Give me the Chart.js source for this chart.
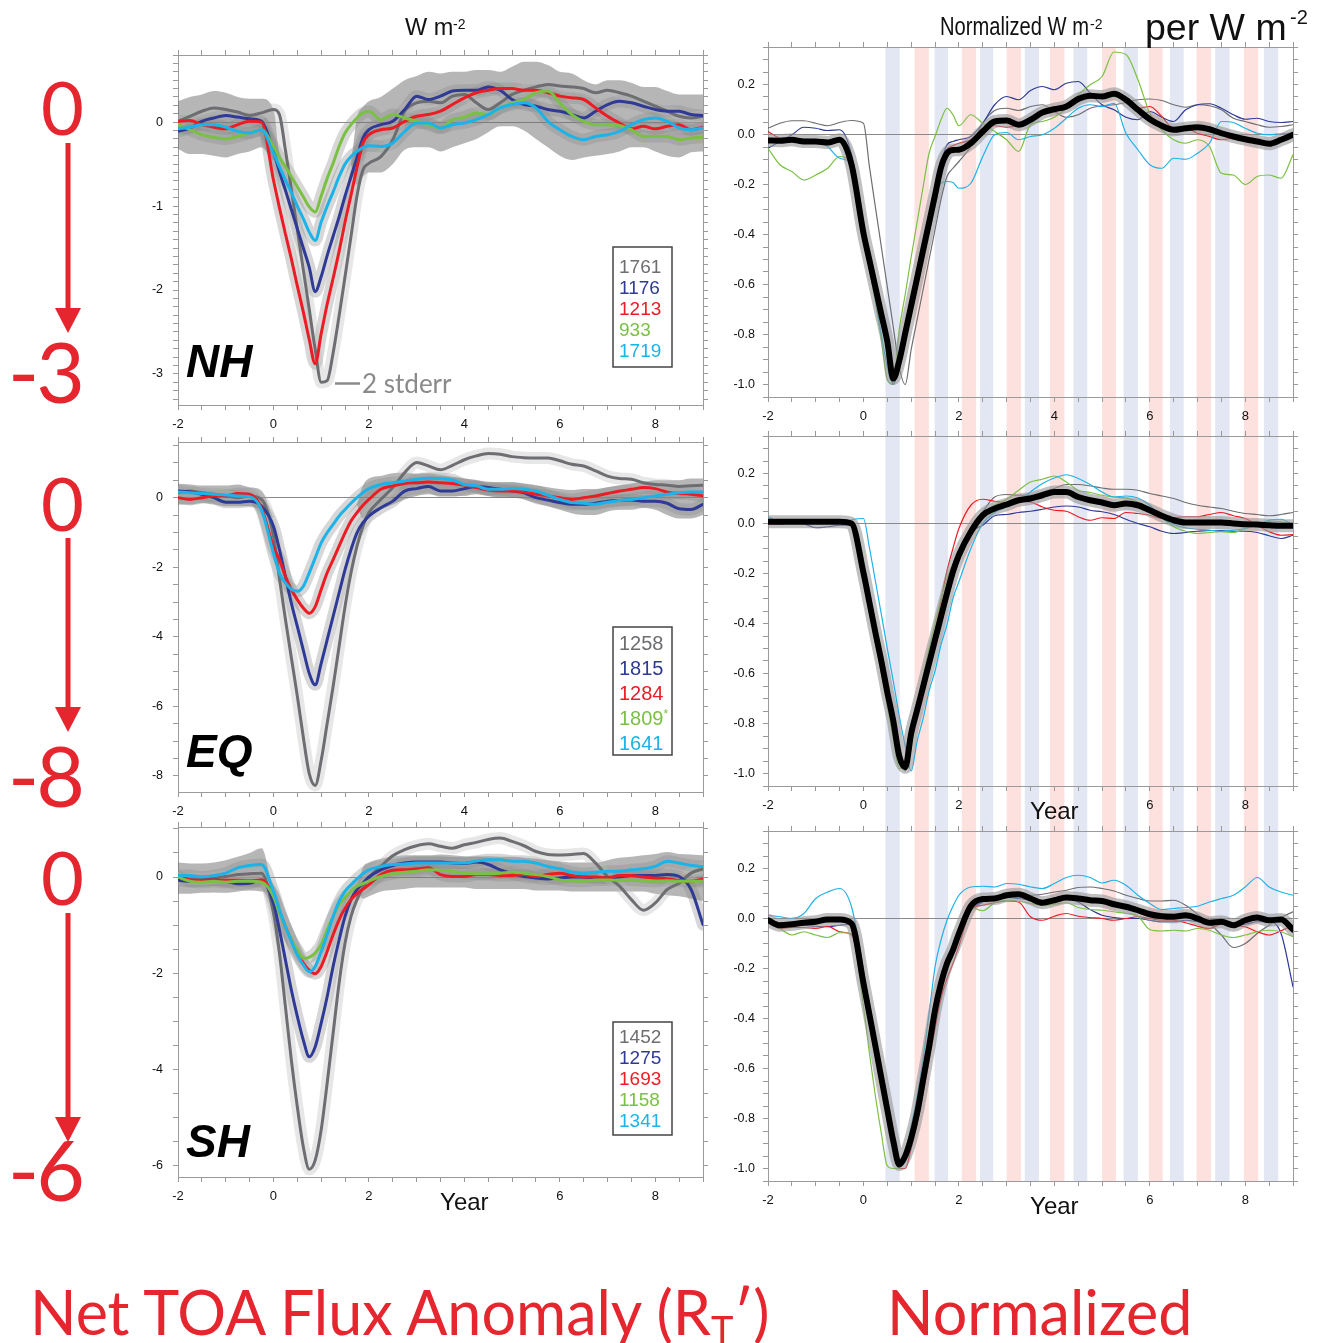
<!DOCTYPE html>
<html>
<head>
<meta charset="utf-8">
<script src="https://cdn.jsdelivr.net/npm/chart.js@4.4.0/dist/chart.umd.min.js"></script>
<style>
  body { margin: 0; background: #fff; }
  #page { position: relative; width: 1337px; height: 1343px; overflow: hidden; background: #fff; }
  canvas { position: absolute; }
  #ov { position: absolute; left: 0; top: 0; z-index: 5; pointer-events: none; }
</style>
</head>
<body>
<div id="page">
  <canvas id="nhL"></canvas>
  <canvas id="eqL"></canvas>
  <canvas id="shL"></canvas>
  <canvas id="nhR"></canvas>
  <canvas id="eqR"></canvas>
  <canvas id="shR"></canvas>

  <svg id="ov" width="1337" height="1343" xmlns="http://www.w3.org/2000/svg">
    <!-- column titles -->
    <g font-family="Liberation Sans, Arial" fill="#111">
      <text x="405" y="35" font-size="23.5">W m</text>
      <text x="453" y="29" font-size="14">-2</text>
      <text x="940" y="35" font-size="25.8" textLength="149" lengthAdjust="spacingAndGlyphs">Normalized W m</text>
      <text x="1090" y="28.5" font-size="14">-2</text>
      <text x="1145" y="40" font-size="37.5">per W m</text>
      <text x="1290" y="24" font-size="20">-2</text>
    </g>

    <!-- red scale notes on the left -->
    <g font-family="Lato, 'Noto Sans', sans-serif" fill="#e5262e">
      <text x="62.5" y="135" text-anchor="middle" font-size="74">0</text>
      <text x="85" y="403" text-anchor="end" font-size="84">-<tspan dx="-3">3</tspan></text>
      <text x="62.5" y="531" text-anchor="middle" font-size="74">0</text>
      <text x="85" y="807" text-anchor="end" font-size="84">-<tspan dx="-3">8</tspan></text>
      <text x="62.5" y="905" text-anchor="middle" font-size="74">0</text>
      <text x="85" y="1201" text-anchor="end" font-size="84">-<tspan dx="-3">6</tspan></text>
    </g>
    <g stroke="#e5262e" stroke-width="5">
      <line x1="68" y1="143" x2="68" y2="312"/>
      <line x1="68" y1="538" x2="68" y2="710"/>
      <line x1="68" y1="913" x2="68" y2="1120"/>
    </g>
    <g fill="#e5262e">
      <polygon points="55,308 81,308 68,333"/>
      <polygon points="55,707 81,707 68,732"/>
      <polygon points="55,1117 81,1117 68,1142"/>
    </g>

    <!-- bottom captions -->
    <g font-family="Lato, 'Noto Sans', sans-serif" fill="#e5262e" font-size="61">
      <text x="30" y="1335">Net TOA Flux Anomaly (R<tspan font-size="38" dy="9">T</tspan><tspan dy="-9">′)</tspan></text>
      <text x="887" y="1335">Normalized</text>
    </g>

    <!-- region names -->
    <g font-family="Liberation Sans, Arial" font-weight="bold" font-style="italic" font-size="46" fill="#000">
      <text x="186" y="377">NH</text>
      <text x="186" y="767">EQ</text>
      <text x="186" y="1157">SH</text>
    </g>
    <line x1="335" y1="383.5" x2="360" y2="383.5" stroke="#8a8a8a" stroke-width="2.5"/>
    <text x="362" y="393" font-family="Lato, 'Noto Sans', sans-serif" font-size="26" fill="#8a8a8a">2 stderr</text>
    <g id="legends"></g>
  </svg>
</div>

<script>
// time axis (years after eruption)
const years = [-2,-1.75,-1.5,-1.25,-1,-0.75,-0.5,-0.25,0,0.125,0.25,0.375,0.5,0.625,0.75,0.875,1,1.125,1.25,1.375,1.5,1.625,1.75,1.875,2,2.25,2.5,2.75,3,3.25,3.5,3.75,4,4.25,4.5,4.75,5,5.25,5.5,5.75,6,6.25,6.5,6.75,7,7.25,7.5,7.75,8,8.25,8.5,8.75,9];

// legend labels (eruption years)
const nhNames = ['1761', '1176', '1213', '933', '1719'];
const eqNames = ['1258', '1815', '1284', '1809*', '1641'];
const shNames = ['1452', '1275', '1693', '1158', '1341'];

// ---- Net TOA flux anomaly, W m-2 ----
const nhGrayL  = [0.01,0.07,0.13,0.17,0.15,0.12,0.08,0.11, 0.15,0.09,-0.33,-0.8,-1.28,-1.76,-2.23,-2.71,-3.1,-3.08,-2.75,-2.31,-1.84,-1.36,-0.88,-0.57,-0.49, -0.41,-0.21,0.13,0.23,0.25,0.23,0.31,0.33,0.23,0.15, 0.23,0.33,0.38,0.42,0.45,0.43,0.42,0.4,0.35,0.38, 0.35,0.31,0.25,0.19,0.13,0.07,0.05,0.07];
const nhBlueL  = [-0.11,-0.07,0.01,0.05,0.08,0.06,0.04,0.01, -0.35,-0.59,-0.81,-1.04,-1.27,-1.5,-1.73,-2.02,-1.84,-1.59,-1.36,-1.13,-0.88,-0.65,-0.42,-0.19,-0.09, -0.03,0.01,0.15,0.31,0.27,0.31,0.37,0.38,0.38,0.42, 0.38,0.27,0.21,0.19,0.15,0.13,0.09,0.05,0.13,0.21, 0.25,0.23,0.19,0.15,0.13,0.13,0.09,0.08];
const nhRedL   = [0.01,0.02,-0.03,-0.06,-0.08,-0.03,0.01,0.0, -0.69,-1.02,-1.33,-1.63,-1.95,-2.26,-2.59,-2.88,-2.52,-2.17,-1.86,-1.54,-1.19,-0.87,-0.54,-0.25,-0.15, -0.09,-0.07,0.01,0.07,0.09,0.13,0.21,0.29,0.35,0.38, 0.4,0.4,0.38,0.38,0.35,0.31,0.29,0.27,0.17,0.07, -0.01,-0.08,-0.05,-0.08,-0.05,-0.03,-0.09,-0.06];
const nhGreenL = [-0.03,-0.09,-0.15,-0.18,-0.2,-0.17,-0.13,-0.09, -0.29,-0.42,-0.53,-0.65,-0.77,-0.89,-1.01,-1.07,-0.88,-0.67,-0.49,-0.29,-0.13,-0.03,0.05,0.11,0.13, 0.03,0.09,0.05,0.01,-0.03,-0.07,0.03,0.06,0.11,0.09, 0.17,0.23,0.27,0.35,0.37,0.23,0.09,0.01,-0.03,-0.03, -0.04,-0.09,-0.17,-0.17,-0.17,-0.21,-0.19,-0.18];
const nhCyanL  = [-0.08,-0.06,-0.03,-0.03,-0.06,-0.11,-0.13,-0.09, -0.37,-0.53,-0.69,-0.84,-1.0,-1.15,-1.31,-1.41,-1.19,-1.0,-0.83,-0.65,-0.5,-0.41,-0.35,-0.3,-0.28, -0.29,-0.25,-0.11,-0.01,-0.01,-0.07,-0.03,-0.01,0.03,0.09, 0.17,0.21,0.23,0.17,0.01,-0.09,-0.17,-0.21,-0.17,-0.15, -0.11,-0.03,0.03,0.05,0.01,-0.07,-0.09,-0.07];
const nhBandHi = [0.25,0.3,0.33,0.37,0.35,0.3,0.28,0.28, 0.15,-0.4, null,null,null,null,null,null,null,null,null,null,null, -0.5,0.05,0.18,0.25, 0.3,0.4,0.5,0.55,0.6,0.58,0.6,0.6,0.62,0.62, 0.6,0.66,0.72,0.72,0.68,0.6,0.58,0.5,0.45,0.5, 0.5,0.47,0.42,0.42,0.37,0.33,0.33,0.33];
const nhBandLo = [-0.32,-0.38,-0.38,-0.4,-0.42,-0.38,-0.35,-0.3, -0.45,-0.4, null,null,null,null,null,null,null,null,null,null,null, -0.5,-0.75,-0.65,-0.6, -0.6,-0.5,-0.33,-0.3,-0.3,-0.35,-0.3,-0.25,-0.2,-0.12, -0.05,-0.05,-0.1,-0.2,-0.3,-0.4,-0.45,-0.42,-0.4,-0.38, -0.35,-0.3,-0.3,-0.35,-0.4,-0.42,-0.36,-0.35];

const eqGrayL  = [0.14,0.19,0.14,0.1,0.05,0.0,0.05,-0.05, -1.1,-2.32,-3.49,-4.6,-5.7,-6.88,-7.93,-8.27,-7.55,-6.49,-5.43,-4.28,-3.13,-2.16,-1.39,-0.82,-0.43, -0.05,0.29,0.72,1.01,0.91,0.8,0.93,1.09,1.2,1.27, 1.25,1.18,1.15,1.14,1.14,1.06,0.96,0.91,0.77,0.62, 0.55,0.53,0.43,0.38,0.36,0.32,0.34,0.36];
const eqBlueL  = [0.19,0.17,0.1,0.0,-0.13,-0.13,-0.1,-0.24, -0.82,-1.49,-2.26,-3.03,-3.7,-4.38,-5.05,-5.38,-4.76,-4.09,-3.41,-2.74,-2.07,-1.49,-1.01,-0.72,-0.53, -0.29,-0.1,0.19,0.26,0.32,0.19,0.19,0.26,0.32,0.29, 0.24,0.19,0.14,0.0,-0.07,-0.14,-0.19,-0.19,-0.16,-0.1, -0.08,-0.07,-0.1,-0.1,-0.16,-0.32,-0.34,-0.19];
const eqRedL   = [0.0,-0.05,0.0,0.05,0.05,0.12,0.1,-0.3, -1.42,-1.78,-2.26,-2.64,-2.93,-3.17,-3.32,-3.13,-2.64,-2.16,-1.78,-1.39,-1.01,-0.67,-0.43,-0.22,-0.05, 0.24,0.34,0.41,0.43,0.45,0.43,0.41,0.36,0.29,0.22, 0.19,0.19,0.16,0.1,0.05,0.0,-0.05,0.0,0.05,0.12, 0.19,0.24,0.29,0.26,0.16,0.12,0.1,0.05];
const eqCyanL  = [0.16,0.14,0.12,0.1,0.08,0.05,0.03,-0.35, -1.6,-2.16,-2.45,-2.63,-2.69,-2.55,-2.16,-1.73,-1.3,-1.01,-0.77,-0.53,-0.34,-0.16,0.0,0.14,0.26, 0.38,0.43,0.48,0.53,0.56,0.55,0.51,0.38,0.34,0.24, 0.24,0.26,0.24,0.19,0.07,-0.05,-0.14,-0.16,-0.19,-0.13, -0.08,-0.05,0.0,0.05,0.1,0.14,0.16,0.16];
const eqBandHi = [0.4,0.38,0.35,0.35,0.35,0.38,0.3,0.2, -0.6, null,null,null,null,null,null,null,null,null,null,null,null,null, -0.2,0.35,0.55, 0.62,0.7,0.72,0.68,0.7,0.65,0.6,0.55,0.5,0.45, 0.45,0.45,0.4,0.35,0.3,0.25,0.22,0.25,0.25,0.3, 0.35,0.4,0.45,0.5,0.5,0.5,0.55,0.55];
const eqBandLo = [-0.2,-0.2,-0.15,-0.2,-0.25,-0.25,-0.25,-0.35, -0.6, null,null,null,null,null,null,null,null,null,null,null,null,null, -0.2,-0.6,-0.5, -0.35,-0.2,-0.05,0.05,0.1,0.05,0.05,0.05,0.1,0.05, 0.0,0.0,-0.05,-0.15,-0.25,-0.35,-0.45,-0.5,-0.5,-0.4, -0.35,-0.35,-0.3,-0.35,-0.5,-0.6,-0.6,-0.5];

const shGrayL  = [-0.02,-0.04,-0.04,-0.02,0.01,0.05,0.07,0.08, -0.75,-1.58,-2.69,-3.81,-4.78,-5.61,-6.08,-5.89,-5.26,-4.29,-3.25,-2.21,-1.38,-0.82,-0.47,-0.23,-0.02, 0.22,0.44,0.57,0.65,0.69,0.64,0.6,0.67,0.72,0.78, 0.81,0.74,0.65,0.53,0.47,0.46,0.47,0.49,0.29,0.01, -0.19,-0.47,-0.69,-0.54,-0.26,-0.13,0.08,0.17];
const shBlueL  = [-0.07,-0.09,-0.07,-0.06,-0.09,-0.14,-0.13,-0.06, -0.54,-1.1,-1.72,-2.35,-2.9,-3.39,-3.74,-3.53,-3.04,-2.49,-1.86,-1.31,-0.82,-0.47,-0.26,-0.13,0.0, 0.15,0.24,0.29,0.31,0.31,0.31,0.29,0.28,0.31,0.26, 0.15,0.07,0.01,-0.02,-0.04,-0.02,0.0,0.0,-0.02,-0.02, 0.0,0.03,0.03,0.03,0.05,0.01,-0.26,-0.99];
const shRedL   = [0.0,-0.06,-0.07,-0.06,-0.07,-0.07,-0.08,-0.06, -0.4,-0.72,-1.03,-1.31,-1.58,-1.79,-1.94,-2.01,-1.86,-1.55,-1.2,-0.89,-0.65,-0.47,-0.35,-0.25,-0.16, 0.05,0.14,0.15,0.17,0.19,0.05,0.01,0.01,0.05,0.05, 0.03,0.03,0.05,0.01,0.05,0.08,0.03,0.0,0.0,-0.02, 0.03,0.03,0.0,-0.02,-0.04,-0.07,-0.09,-0.04];
const shGreenL = [0.0,-0.09,-0.11,-0.09,-0.11,-0.09,-0.09,-0.11, -0.4,-0.75,-1.03,-1.31,-1.51,-1.69,-1.67,-1.58,-1.41,-1.1,-0.82,-0.58,-0.42,-0.3,-0.19,-0.14,-0.08, 0.01,0.07,0.1,0.12,0.15,0.14,0.12,0.08,0.07,0.07, 0.08,0.1,0.08,0.05,0.01,-0.06,-0.08,-0.09,-0.06,-0.06, -0.07,-0.06,-0.08,-0.09,-0.08,-0.09,-0.09,-0.09];
const shCyanL  = [0.03,0.03,0.0,0.03,0.08,0.19,0.24,0.26, -0.3,-0.68,-1.03,-1.34,-1.62,-1.83,-1.97,-1.86,-1.55,-1.2,-0.82,-0.51,-0.3,-0.16,-0.04,0.07,0.15, 0.22,0.26,0.27,0.29,0.29,0.29,0.29,0.29,0.33,0.36, 0.36,0.33,0.33,0.29,0.22,0.17,0.1,0.07,0.1,0.12, 0.12,0.15,0.17,0.22,0.33,0.29,0.24,0.22];
const shBandHi = [0.3,0.28,0.28,0.3,0.35,0.42,0.5,0.6, -0.35, null,null,null,null,null,null,null,null,null,null,null,null,null, -0.2,0.2,0.3, 0.38,0.42,0.45,0.45,0.45,0.47,0.45,0.43,0.42,0.43, 0.42,0.42,0.4,0.38,0.35,0.33,0.3,0.3,0.3,0.35, 0.4,0.42,0.45,0.48,0.52,0.48,0.47,0.45];
const shBandLo = [-0.35,-0.35,-0.33,-0.32,-0.33,-0.3,-0.28,-0.3, -0.35, null,null,null,null,null,null,null,null,null,null,null,null,null, -0.2,-0.45,-0.4, -0.3,-0.27,-0.25,-0.22,-0.22,-0.22,-0.22,-0.22,-0.25,-0.25, -0.25,-0.25,-0.25,-0.28,-0.28,-0.28,-0.3,-0.3,-0.3,-0.3, -0.3,-0.3,-0.3,-0.35,-0.38,-0.4,-0.45,-0.5];

// ---- normalized responses ----
const nhMeanR  = [-0.024,-0.025,-0.021,-0.028,-0.028,-0.032,-0.021,-0.12, -0.394,-0.503,-0.611,-0.72,-0.828,-0.976,-0.905,-0.795,-0.684,-0.574,-0.463,-0.353,-0.242,-0.132,-0.075,-0.062,-0.061, -0.035,0.012,0.052,0.056,0.039,0.059,0.088,0.101,0.112,0.142, 0.155,0.152,0.163,0.139,0.099,0.061,0.035,0.019,0.025,0.029, 0.021,0.005,-0.008,-0.019,-0.028,-0.037,-0.021,-0.001];
const nhGrayR  = [0.025,0.045,0.055,0.055,0.045,0.035,0.048,0.056, 0.045,-0.128,-0.29,-0.45,-0.61,-0.77,-0.93,-1.0,-0.86,-0.74,-0.62,-0.5,-0.38,-0.26,-0.168,-0.135,-0.108, -0.048,0.045,0.096,0.105,0.096,0.112,0.119,0.092,0.069,0.079, 0.105,0.115,0.119,0.128,0.139,0.142,0.136,0.119,0.109,0.119, 0.115,0.099,0.065,0.052,0.039,0.029,0.032,0.039];
const nhBlueR  = [-0.055,-0.028,-0.001,0.029,0.025,0.016,0.019,-0.08, -0.37,-0.49,-0.61,-0.73,-0.84,-1.0,-0.92,-0.8,-0.69,-0.57,-0.455,-0.34,-0.23,-0.115,-0.041,-0.028,-0.021, -0.008,0.045,0.119,0.152,0.139,0.176,0.192,0.179,0.205,0.212, 0.166,0.119,0.099,0.069,0.059,0.092,0.069,0.052,0.099,0.119, 0.123,0.105,0.079,0.061,0.065,0.052,0.048,0.052];
const nhRedR   = [0.012,-0.015,-0.021,-0.024,-0.028,-0.028,-0.021,-0.1, -0.38,-0.5,-0.62,-0.74,-0.86,-1.0,-0.92,-0.8,-0.69,-0.58,-0.47,-0.36,-0.25,-0.13,-0.06,-0.045,-0.035, -0.021,0.025,0.035,0.029,0.039,0.065,0.092,0.099,0.119,0.146, 0.155,0.15,0.159,0.139,0.105,0.112,0.072,0.025,0.025,0.005, -0.008,-0.021,-0.015,-0.019,-0.021,-0.032,-0.021,-0.001];
const nhGreenR = [-0.055,-0.121,-0.148,-0.182,-0.162,-0.135,-0.088,-0.13, -0.41,-0.54,-0.67,-0.82,-0.98,-1.0,-0.78,-0.64,-0.49,-0.35,-0.21,-0.075,-0.008,0.059,0.105,0.079,0.035, 0.079,0.045,0.012,-0.021,-0.068,0.039,0.052,0.069,0.105,0.159, 0.199,0.232,0.33,0.32,0.22,0.085,0.019,-0.021,-0.035,-0.021, -0.048,-0.155,-0.162,-0.2,-0.168,-0.162,-0.175,-0.081];
const nhCyanR  = [-0.021,-0.015,-0.015,-0.019,-0.021,-0.048,-0.095,-0.12, -0.395,-0.53,-0.66,-0.8,-0.93,-1.0,-0.89,-0.77,-0.65,-0.53,-0.42,-0.315,-0.228,-0.195,-0.188,-0.192,-0.215, -0.195,-0.088,-0.001,0.008,-0.021,-0.008,-0.001,0.025,0.065,0.105, 0.119,0.112,0.125,0.005,-0.061,-0.121,-0.135,-0.095,-0.099,-0.075, -0.035,0.052,0.048,0.025,0.005,-0.001,0.003,0.005];

const eqMeanR  = [0.007,0.007,0.007,0.007,0.007,0.007,0.007,0.0, -0.197,-0.316,-0.436,-0.55,-0.675,-0.79,-0.93,-0.975,-0.84,-0.746,-0.653,-0.559,-0.465,-0.372,-0.279,-0.193,-0.126, -0.033,0.033,0.06,0.076,0.093,0.1,0.113,0.126,0.126,0.106, 0.093,0.084,0.073,0.08,0.073,0.053,0.031,0.013,0.004,0.004, 0.004,0.004,0.0,-0.003,-0.004,-0.007,-0.009,-0.009];
const eqGrayR  = [0.01,0.008,0.005,0.005,0.008,0.01,0.008,0.004, -0.19,-0.31,-0.43,-0.55,-0.67,-0.79,-0.92,-0.99,-0.86,-0.76,-0.66,-0.56,-0.46,-0.37,-0.28,-0.2,-0.12, -0.03,0.047,0.106,0.116,0.113,0.113,0.126,0.14,0.156,0.156, 0.15,0.142,0.137,0.137,0.133,0.12,0.11,0.1,0.084,0.073, 0.066,0.06,0.049,0.04,0.036,0.031,0.036,0.044];
const eqBlueR  = [0.004,0.007,0.013,0.0,-0.017,-0.013,-0.007,-0.007, -0.2,-0.32,-0.44,-0.56,-0.69,-0.81,-0.94,-0.98,-0.87,-0.77,-0.67,-0.57,-0.47,-0.38,-0.29,-0.21,-0.13, -0.036,-0.007,0.031,0.036,0.044,0.049,0.057,0.066,0.07,0.066, 0.053,0.047,0.036,0.017,0.0,-0.013,-0.031,-0.04,-0.036,-0.031, -0.028,-0.028,-0.031,-0.031,-0.036,-0.049,-0.06,-0.047];
const eqRedR   = [0.0,-0.004,0.007,0.009,0.013,0.011,0.009,0.004, -0.21,-0.33,-0.45,-0.57,-0.69,-0.82,-0.95,-0.96,-0.84,-0.74,-0.63,-0.53,-0.43,-0.31,-0.19,-0.1,-0.02, 0.073,0.097,0.089,0.084,0.089,0.086,0.066,0.053,0.049,0.027, 0.013,0.023,0.02,0.044,0.04,0.033,0.02,0.023,0.027,0.027, 0.036,0.044,0.031,0.02,-0.007,-0.033,-0.047,-0.044];
const eqGreenR = [0.005,0.003,0.006,0.008,0.006,0.005,0.006,0.0, -0.22,-0.35,-0.48,-0.6,-0.73,-0.86,-0.98,-0.96,-0.83,-0.72,-0.61,-0.5,-0.4,-0.3,-0.22,-0.16,-0.11, -0.02,0.04,0.073,0.097,0.133,0.166,0.177,0.19,0.166,0.133, 0.124,0.113,0.106,0.102,0.086,0.06,0.023,-0.013,-0.031,-0.04, -0.036,-0.033,-0.036,-0.02,-0.004,0.009,0.007,-0.007];
const eqCyanR  = [0.027,0.007,0.013,0.013,0.004,0.0,0.0,0.015, 0.02,-0.097,-0.23,-0.364,-0.5,-0.63,-0.77,-0.89,-0.99,-0.87,-0.78,-0.67,-0.59,-0.485,-0.405,-0.3,-0.233, -0.1,0.0,0.044,0.066,0.093,0.126,0.16,0.182,0.195,0.18, 0.156,0.126,0.106,0.11,0.102,0.073,0.023,-0.004,-0.017,-0.023, -0.027,-0.031,-0.027,-0.02,-0.007,0.013,0.017,-0.007];

const shMeanR  = [-0.007,-0.027,-0.023,-0.017,-0.013,-0.004,-0.004,-0.02, -0.258,-0.384,-0.51,-0.638,-0.765,-0.89,-0.984,-0.95,-0.878,-0.778,-0.645,-0.512,-0.366,-0.259,-0.18,-0.126,-0.06, 0.05,0.078,0.08,0.093,0.097,0.08,0.063,0.073,0.084,0.08, 0.073,0.07,0.057,0.047,0.033,0.017,0.009,0.007,0.013,0.0, -0.017,-0.013,-0.027,-0.007,0.004,-0.007,-0.004,-0.044];
const shGrayR  = [-0.01,-0.02,-0.02,-0.015,-0.01,-0.005,0.0,-0.02, -0.26,-0.38,-0.5,-0.63,-0.76,-0.89,-0.98,-0.96,-0.88,-0.78,-0.65,-0.52,-0.37,-0.26,-0.18,-0.12,-0.05, 0.05,0.08,0.089,0.097,0.093,0.093,0.097,0.106,0.113,0.124, 0.126,0.12,0.11,0.093,0.08,0.07,0.07,0.073,0.053,0.017, -0.02,-0.066,-0.116,-0.1,-0.06,-0.027,0.004,0.027];
const shBlueR  = [-0.007,-0.017,-0.023,-0.027,-0.031,-0.033,-0.027,-0.023, -0.25,-0.38,-0.51,-0.64,-0.77,-0.9,-0.99,-0.95,-0.87,-0.77,-0.64,-0.5,-0.36,-0.26,-0.19,-0.13,-0.07, 0.03,0.066,0.076,0.084,0.08,0.073,0.06,0.066,0.08,0.066, 0.036,0.013,0.004,0.0,0.0,-0.007,-0.013,-0.013,-0.007,-0.013, -0.02,-0.023,-0.027,-0.023,-0.013,-0.013,-0.06,-0.273];
const shRedR   = [-0.013,-0.04,-0.036,-0.036,-0.04,-0.031,-0.053,-0.066, -0.27,-0.39,-0.52,-0.65,-0.77,-0.9,-1.0,-1.0,-0.92,-0.82,-0.7,-0.57,-0.44,-0.32,-0.24,-0.18,-0.11, 0.033,0.053,0.063,0.07,0.066,0.007,-0.007,0.009,0.02,0.009, 0.004,0.0,-0.007,0.0,0.007,0.0,-0.007,-0.007,-0.017,-0.031, -0.04,-0.023,-0.027,-0.033,-0.053,-0.066,-0.049,-0.027];
const shGreenR = [-0.007,-0.04,-0.066,-0.053,-0.066,-0.076,-0.057,-0.06, -0.35,-0.54,-0.71,-0.86,-0.99,-1.0,-1.0,-0.92,-0.85,-0.75,-0.62,-0.49,-0.36,-0.26,-0.18,-0.12,-0.06, 0.044,0.031,0.063,0.073,0.069,0.06,0.053,0.057,0.063,0.044, 0.036,0.033,0.027,0.02,0.009,-0.044,-0.05,-0.047,-0.05,-0.04, -0.047,-0.066,-0.076,-0.066,-0.053,-0.047,-0.053,-0.073];
const shCyanR  = [0.013,0.007,0.0,0.02,0.08,0.106,0.12,0.047, -0.206,-0.36,-0.5,-0.63,-0.76,-0.89,-0.98,-0.93,-0.83,-0.71,-0.56,-0.38,-0.193,-0.086,-0.007,0.049,0.093, 0.126,0.129,0.126,0.14,0.137,0.126,0.12,0.14,0.164,0.173, 0.164,0.142,0.153,0.133,0.093,0.06,0.036,0.04,0.044,0.049, 0.066,0.08,0.093,0.126,0.164,0.126,0.106,0.093];

// seasonal stripes behind the normalized panels (years)
const stripeStart = [0.46,1.07,1.49,2.06,2.44,3.0,3.38,3.91,4.4,5.0,5.45,5.98,6.42,6.98,7.37,7.97,8.39];
const stripeEnd   = [0.76,1.37,1.77,2.36,2.72,3.3,3.68,4.21,4.69,5.29,5.75,6.27,6.71,7.28,7.67,8.27,8.69];
const stripeTone  = ['cool','warm','cool','warm','cool','warm','cool','warm','cool','warm','cool','warm','cool','warm','cool','warm','cool'];

const lineColors = ['#6d6e71', '#2e3a96', '#ed1c24', '#7ac143', '#1cb3e8'];

// quick sanity check on array lengths
const allSeries = {nhGrayL, nhBlueL, nhRedL, nhGreenL, nhCyanL, nhBandHi, nhBandLo, eqGrayL, eqBlueL, eqRedL, eqCyanL, eqBandHi, eqBandLo,
  shGrayL, shBlueL, shRedL, shGreenL, shCyanL, shBandHi, shBandLo, nhMeanR, nhGrayR, nhBlueR, nhRedR, nhGreenR, nhCyanR,
  eqMeanR, eqGrayR, eqBlueR, eqRedR, eqGreenR, eqCyanR, shMeanR, shGrayR, shBlueR, shRedR, shGreenR, shCyanR};
const bad = Object.keys(allSeries).filter(k => allSeries[k].length !== years.length).map(k => k + ':' + allSeries[k].length);
if (bad.length) throw new Error('length mismatch ' + bad.join(', '));

const stripePlugin = {
  id: 'stripes',
  beforeDraw(chart, args, o) {
    if (!o || !o.on) return;
    const ctx = chart.ctx, area = chart.chartArea, xs = chart.scales.x;
    const bottom = o.toEdge ? chart.height : area.bottom;
    ctx.save();
    stripeStart.forEach(function (s, i) {
      const a = xs.getPixelForValue(s), b = xs.getPixelForValue(stripeEnd[i]);
      ctx.fillStyle = stripeTone[i] === 'cool' ? '#e3e7f3' : '#fde1df';
      ctx.fillRect(a, area.top, b - a, bottom - area.top);
    });
    ctx.restore();
  }
};

function leftSets(series, hi, lo) {
  const sets = [
    { data: hi, fill: '+1', backgroundColor: 'rgba(110,110,110,0.5)', borderWidth: 0, order: 100 },
    { data: lo, fill: false, borderWidth: 0, order: 101 }
  ];
  series.forEach(function (s, i) {
    if (s) sets.push({ data: s, borderColor: i === 0 ? 'rgba(185,185,185,0.35)' : 'rgba(140,140,140,0.35)', borderWidth: 12, order: 50 });
  });
  series.forEach(function (s, i) {
    if (s) sets.push({ data: s, borderColor: lineColors[i], borderWidth: 3, order: 10 - i });
  });
  return sets;
}

function rightSets(series, mean) {
  const sets = [];
  series.forEach(function (s, i) {
    sets.push({ data: s, borderColor: lineColors[i], borderWidth: 1.2, order: 20 - i });
  });
  sets.push({ data: mean, borderColor: 'rgba(150,150,150,0.6)', borderWidth: 13, order: 2 });
  sets.push({ data: mean, borderColor: '#000', borderWidth: 6, order: 1 });
  return sets;
}

function drawPanel(id, geo, yr, sets, opt) {
  const c = document.getElementById(id);
  const w = geo.right - geo.left, h = geo.bottom - geo.top;
  c.width = w; c.height = h;
  c.style.left = geo.left + 'px'; c.style.top = geo.top + 'px';
  c.style.width = w + 'px'; c.style.height = h + 'px';

  const frame = { display: true, color: '#9a9a9a', width: 1 };
  const noLabel = function () { return ''; };
  const xLabel = function (v) {
    if (Math.abs(v - Math.round(v)) < 1e-9 && Math.round(v) % 2 === 0 && v < 9) {
      return (opt.year && Math.round(v) === 4) ? 'Year' : String(Math.round(v));
    }
    return '';
  };
  const yLabel = function (v) {
    const k = v / yr.every;
    if (Math.abs(k - Math.round(k)) > 1e-6) return '';
    if (yr.dec) { const s = v.toFixed(1); return s === '-0.0' ? '0.0' : s; }
    return String(Math.round(v));
  };
  sets.forEach(function (s) { s.xAxisID = 'x'; s.yAxisID = 'y'; s.pointRadius = 0; });

  new Chart(c, {
    type: 'line',
    data: { labels: years, datasets: sets },
    options: {
      responsive: false, animation: false, devicePixelRatio: 1,
      layout: { padding: 0 },
      events: [],
      plugins: { legend: { display: false }, tooltip: { enabled: false }, stripes: { on: !!opt.stripes, toEdge: !!opt.toEdge } },
      elements: { point: { radius: 0 }, line: { cubicInterpolationMode: 'monotone', borderJoinStyle: 'round', borderCapStyle: 'round' } },
      scales: {
        x: {
          type: 'linear', position: 'bottom', min: -2, max: 9,
          afterFit: function (s) { s.height = geo.bottom - geo.plotB; },
          border: frame,
          grid: { drawOnChartArea: false, tickLength: 5, color: '#999', tickColor: '#999' },
          ticks: {
            stepSize: 0.5, autoSkip: false, maxRotation: 0, padding: 7, color: '#111',
            font: function (ctx) { return { family: 'Liberation Sans, Arial', size: (opt.year && ctx.tick && ctx.tick.value === 4) ? 24 : 13 }; },
            callback: xLabel
          }
        },
        xt: {
          type: 'linear', position: 'top', min: -2, max: 9,
          afterFit: function (s) { s.height = geo.plotT - geo.top; },
          border: frame,
          grid: { drawOnChartArea: false, tickLength: 5, color: '#999', tickColor: '#999' },
          ticks: { stepSize: 0.5, autoSkip: false, maxRotation: 0, padding: 0, font: { size: 1 }, callback: noLabel }
        },
        y: {
          type: 'linear', position: 'left', min: yr.min, max: yr.max,
          afterFit: function (s) { s.width = geo.plotL - geo.left; },
          border: frame,
          grid: {
            drawOnChartArea: true, tickLength: 5, tickColor: '#999',
            color: function (ctx) { return (ctx.tick && Math.abs(ctx.tick.value) < 1e-9) ? '#8a8a8a' : 'rgba(0,0,0,0)'; }
          },
          ticks: {
            stepSize: yr.step, autoSkip: false, includeBounds: false, padding: yr.dec ? 8 : 10, color: '#111',
            font: { family: 'Liberation Sans, Arial', size: 12.5 },
            callback: yLabel
          }
        },
        yr: {
          type: 'linear', position: 'right', min: yr.min, max: yr.max,
          afterFit: function (s) { s.width = geo.right - geo.plotR; },
          border: frame,
          grid: { drawOnChartArea: false, tickLength: 5, color: '#999', tickColor: '#999' },
          ticks: { stepSize: yr.step, autoSkip: false, includeBounds: false, padding: 0, font: { size: 1 }, callback: noLabel }
        }
      }
    },
    plugins: [stripePlugin]
  });
}

// panel geometry on the page (top margin leaves room for Chart.js label padding)
const colL = { left: 128, plotL: 178, plotR: 703, right: 713 };
const colR = { left: 718, plotL: 768, plotR: 1293, right: 1303 };
function geo(col, plotT, plotB, bottom) {
  return { left: col.left, plotL: col.plotL, plotR: col.plotR, right: col.right, top: plotT - 22, plotT: plotT, plotB: plotB, bottom: bottom };
}

drawPanel('nhL', geo(colL, 55, 405, 442), { min: -3.37, max: 0.8, step: 0.1, every: 1 },
  leftSets([nhGrayL, nhBlueL, nhRedL, nhGreenL, nhCyanL], nhBandHi, nhBandLo), {});
drawPanel('eqL', geo(colL, 442, 792, 827), { min: -8.46, max: 1.6, step: 0.5, every: 2 },
  leftSets([eqGrayL, eqBlueL, eqRedL, null, eqCyanL], eqBandHi, eqBandLo), {});
drawPanel('shL', geo(colL, 827, 1177, 1212), { min: -6.24, max: 1.04, step: 0.5, every: 2 },
  leftSets([shGrayL, shBlueL, shRedL, shGreenL, shCyanL], shBandHi, shBandLo), { year: true });

const normY = { min: -1.05, max: 0.35, step: 0.05, every: 0.2, dec: true };
drawPanel('nhR', geo(colR, 47, 397, 436), normY,
  rightSets([nhGrayR, nhBlueR, nhRedR, nhGreenR, nhCyanR], nhMeanR), { stripes: true, toEdge: true });
drawPanel('eqR', geo(colR, 436, 786, 831), normY,
  rightSets([eqGrayR, eqBlueR, eqRedR, eqGreenR, eqCyanR], eqMeanR), { stripes: true, toEdge: true, year: true });
drawPanel('shR', geo(colR, 831, 1181, 1216), normY,
  rightSets([shGrayR, shBlueR, shRedR, shGreenR, shCyanR], shMeanR), { stripes: true, year: true });

// legend boxes
function legendBox(names, x, y, w, h, firstBase, gap, size) {
  const ns = 'http://www.w3.org/2000/svg';
  const g = document.getElementById('legends');
  const r = document.createElementNS(ns, 'rect');
  r.setAttribute('x', x); r.setAttribute('y', y); r.setAttribute('width', w); r.setAttribute('height', h);
  r.setAttribute('fill', '#fff'); r.setAttribute('stroke', '#444'); r.setAttribute('stroke-width', '1.5');
  g.appendChild(r);
  names.forEach(function (n, i) {
    const t = document.createElementNS(ns, 'text');
    t.setAttribute('x', x + 6); t.setAttribute('y', firstBase + i * gap);
    t.setAttribute('font-family', 'Liberation Sans, Arial'); t.setAttribute('font-size', size);
    t.setAttribute('fill', lineColors[i]);
    if (n.endsWith('*')) {
      t.textContent = n.slice(0, -1);
      const s = document.createElementNS(ns, 'tspan');
      s.setAttribute('font-size', size * 0.6); s.setAttribute('dy', -7);
      s.textContent = '*';
      t.appendChild(s);
    } else {
      t.textContent = n;
    }
    g.appendChild(t);
  });
}
legendBox(nhNames, 613, 247, 59, 120, 273, 21, 19);
legendBox(eqNames, 613, 627, 59, 128, 650, 25, 20);
legendBox(shNames, 613, 1022, 59, 113, 1043, 21, 19);
</script>
</body>
</html>
